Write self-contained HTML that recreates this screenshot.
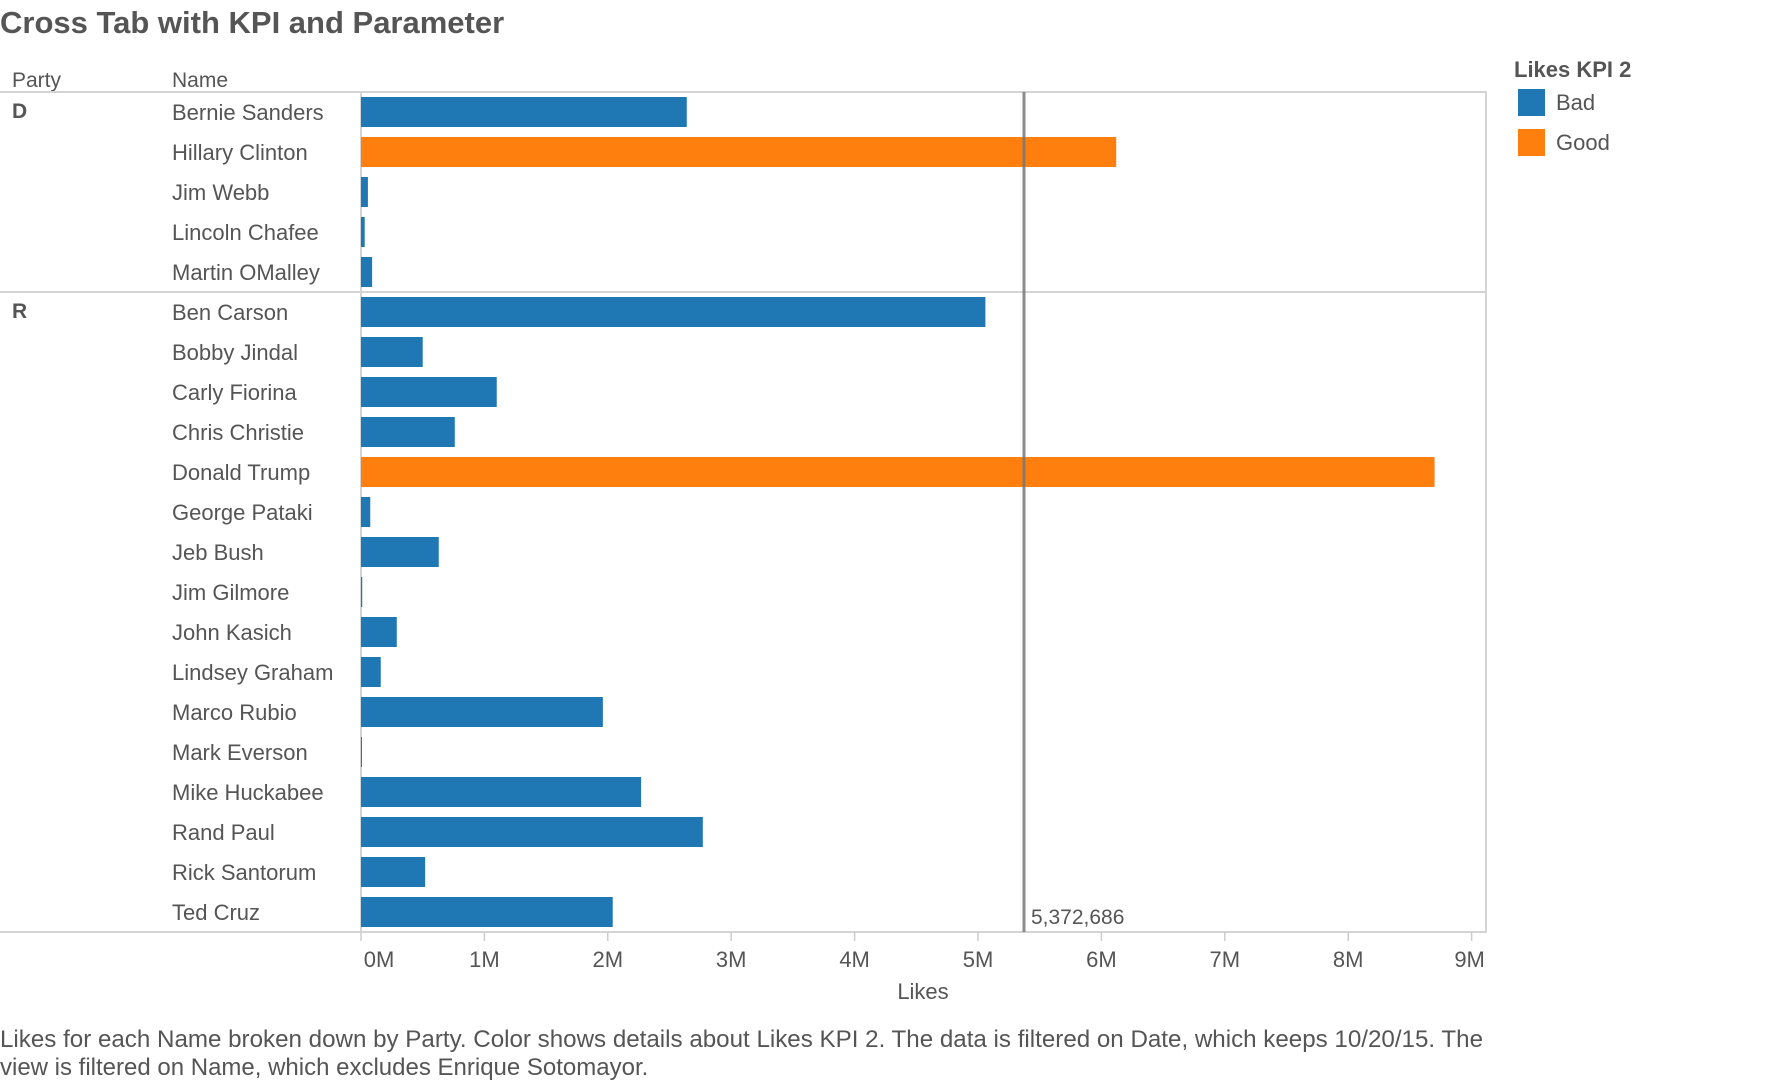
<!DOCTYPE html>
<html><head><meta charset="utf-8"><style>
body{margin:0;background:#fff;width:1790px;height:1080px;overflow:hidden;font-family:"Liberation Sans",sans-serif;color:#555}
svg text{font-family:"Liberation Sans",sans-serif;fill:#555}
</style></head><body>
<svg id="c" width="1790" height="1080"></svg>
<script>
const names=["Bernie Sanders","Hillary Clinton","Jim Webb","Lincoln Chafee","Martin OMalley","Ben Carson","Bobby Jindal","Carly Fiorina","Chris Christie","Donald Trump","George Pataki","Jeb Bush","Jim Gilmore","John Kasich","Lindsey Graham","Marco Rubio","Mark Everson","Mike Huckabee","Rand Paul","Rick Santorum","Ted Cruz"];
const parties=["D","D","D","D","D","R","R","R","R","R","R","R","R","R","R","R","R","R","R","R","R"];
const likes=[2.64,6.12,0.056,0.03,0.09,5.06,0.50,1.10,0.76,8.70,0.075,0.63,0.01,0.29,0.16,1.96,0.005,2.27,2.77,0.52,2.04];
const refValue=5.372686;
const ticks=[0,1,2,3,4,5,6,7,8,9];
const NS="http://www.w3.org/2000/svg";
const svg=document.getElementById('c');
const X0=361,PX=123.4,TOP=92,RH=40,RIGHT=1486;
const x=v=>X0+v*PX, y=i=>TOP+i*RH;
function el(t,a,txt){const e=document.createElementNS(NS,t);for(const k in a)e.setAttribute(k,a[k]);if(txt!=null)e.textContent=txt;svg.appendChild(e);return e;}
let e;
e=el('text',{x:0,y:33,'font-size':31,'font-weight':'bold',fill:'#555'},'Cross Tab with KPI and Parameter');


e=el('text',{x:12,y:87,'font-size':21},'Party');


e=el('text',{x:172,y:87,'font-size':21},'Name');


const bottom=y(names.length);
e=el('rect',{x:X0,y:TOP,width:RIGHT-X0,height:bottom-TOP,fill:'none',stroke:'#d4d4d4','stroke-width':2});


e=el('line',{x1:0,x2:X0,y1:TOP,y2:TOP,stroke:'#d4d4d4','stroke-width':2});


e=el('line',{x1:0,x2:X0,y1:bottom,y2:bottom,stroke:'#d4d4d4','stroke-width':2});


names.forEach((n,i)=>{
  if(i===0||parties[i]!==parties[i-1]){
    if(i>0){e=el('line',{x1:0,x2:RIGHT,y1:y(i),y2:y(i),stroke:'#d4d4d4','stroke-width':2});
    
    }
    e=el('text',{x:12,y:y(i)+26,'font-size':21,'font-weight':'bold'},parties[i]);
    
    
  }
  e=el('text',{x:172,y:y(i)+28,'font-size':22},n);
  
  
  e=el('rect',{x:X0,y:y(i)+5,width:Math.max(1,x(likes[i])-X0),height:30,fill:likes[i]>refValue?'#ff7f0e':'#1f77b4'});
  
  
});
e=el('line',{x1:x(refValue),x2:x(refValue),y1:TOP,y2:bottom,stroke:'#777','stroke-width':3,opacity:0.85});


e=el('text',{x:x(refValue)+7,y:924,'font-size':21},'5,372,686');


ticks.forEach((t,i)=>{
  e=el('line',{x1:x(t),x2:x(t),y1:bottom,y2:bottom+9,stroke:'#ccc','stroke-width':1.5});
  
  
  const off=i===0?18:(i===ticks.length-1?-2:0);
  e=el('text',{x:x(t)+off,y:967,'font-size':22,'text-anchor':'middle'},t+'M');
  
  
});
e=el('text',{x:923,y:999,'font-size':22,'text-anchor':'middle'},'Likes');


e=el('text',{x:0,y:1047,'font-size':24,textLength:1483,lengthAdjust:'spacingAndGlyphs'},'Likes for each Name broken down by Party.  Color shows details about Likes KPI 2. The data is filtered on Date, which keeps 10/20/15. The');


e=el('text',{x:0,y:1075,'font-size':24},'view is filtered on Name, which excludes Enrique Sotomayor.');


e=el('text',{x:1514,y:77,'font-size':22,'font-weight':'bold'},'Likes KPI 2');


[['Bad','#1f77b4',89],['Good','#ff7f0e',129]].forEach(([l,c,yy])=>{
  e=el('rect',{x:1518,y:yy,width:27,height:27,fill:c});
  
  
  e=el('text',{x:1556,y:yy+21,'font-size':22},l);
  
  
});
</script>
</body></html>
